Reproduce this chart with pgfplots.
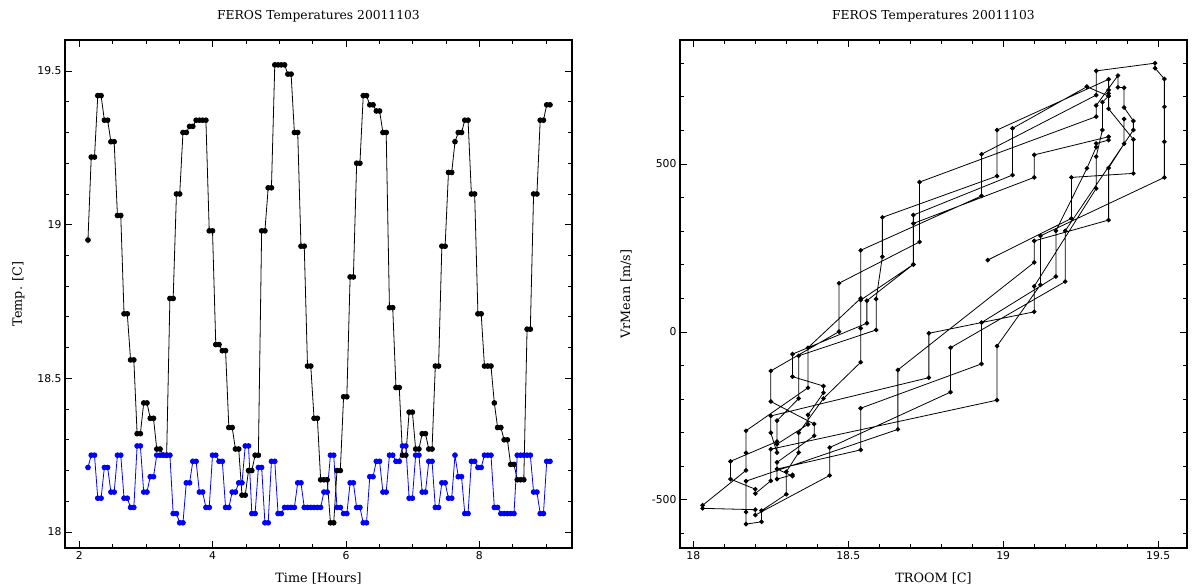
\documentclass[border=0pt]{standalone}
\usepackage{fontspec}
\setmainfont{DejaVu Serif}
\newfontfamily\ticksans{DejaVu Sans}
\usepackage{pgfplots}
\pgfplotsset{compat=1.18}
\usepackage{pgfplotstable}

% t = time [h], T = TROOM [C], B = second sensor [C], V = VrMean [m/s]
\pgfplotstableread{
t T B V
2.130 18.95 18.21 214
2.179 19.22 18.25 338
2.228 19.22 18.25 460
2.277 19.42 18.11 472
2.327 19.42 18.11 573
2.376 19.34 18.21 664
2.425 19.34 18.21 702
2.474 19.27 18.13 730
2.523 19.27 18.13 730
2.572 19.03 18.25 606
2.622 19.03 18.25 467
2.671 18.71 18.11 348
2.720 18.71 18.11 201
2.769 18.56 18.08 93
2.818 18.56 18.08 26
2.867 18.32 18.28 -66
2.916 18.32 18.28 -133
2.966 18.42 18.13 -161
3.015 18.42 18.13 -181
3.064 18.37 18.18 -247
3.113 18.37 18.18 -275
3.162 18.27 18.25 -334
3.211 18.27 18.25 -359
3.260 18.25 18.25 -300
3.310 18.25 18.25 -250
3.359 18.76 18.25 -136
3.408 18.76 18.06 -4
3.457 19.10 18.06 60
3.506 19.10 18.03 136
3.555 19.30 18.03 427
3.605 19.30 18.16 522
3.654 19.32 18.16 601
3.703 19.32 18.23 684
3.752 19.34 18.23 702
3.801 19.34 18.13 710
3.850 19.34 18.13 720
3.899 19.34 18.08 752
3.949 18.98 18.08 601
3.998 18.98 18.25 464
4.047 18.61 18.25 341
4.096 18.61 18.23 224
4.145 18.59 18.23 98
4.194 18.59 18.08 6
4.243 18.34 18.08 -71
4.293 18.34 18.13 -198
4.342 18.27 18.13 -264
4.391 18.27 18.16 -326
4.440 18.12 18.16 -385
4.489 18.12 18.28 -438
4.538 18.20 18.28 -468
4.588 18.20 18.06 -481
4.637 18.25 18.06 -443
4.686 18.25 18.21 -349
4.735 18.98 18.21 -203
4.784 18.98 18.03 -42
4.833 19.12 18.03 140
4.882 19.12 18.23 286
4.932 19.52 18.23 460
4.981 19.52 18.06 566
5.030 19.52 18.06 670
5.079 19.52 18.08 753
5.128 19.49 18.08 785
5.177 19.49 18.08 800
5.226 19.30 18.08 777
5.276 19.30 18.16 705
5.325 18.93 18.16 529
5.374 18.93 18.08 405
5.423 18.54 18.08 243
5.472 18.54 18.08 100
5.521 18.37 18.08 -47
5.571 18.37 18.08 -166
5.620 18.17 18.08 -294
5.669 18.17 18.13 -360
5.718 18.17 18.13 -412
5.767 18.03 18.25 -516
5.816 18.03 18.25 -525
5.865 18.20 18.08 -529
5.915 18.20 18.08 -545
5.964 18.44 18.06 -427
6.013 18.44 18.06 -344
6.062 18.83 18.16 -179
6.111 18.83 18.16 -47
6.160 19.20 18.08 150
6.209 19.20 18.08 301
6.259 19.42 18.03 601
6.308 19.42 18.03 628
6.357 19.39 18.18 668
6.406 19.39 18.18 727
6.455 19.37 18.23 728
6.504 19.37 18.23 763
6.554 19.30 18.13 674
6.603 19.30 18.13 641
6.652 18.73 18.25 446
6.701 18.73 18.25 268
6.750 18.47 18.23 145
6.799 18.47 18.23 1
6.848 18.25 18.28 -116
6.898 18.25 18.28 -207
6.947 18.39 18.11 -274
6.996 18.39 18.11 -309
7.045 18.27 18.25 -388
7.094 18.27 18.25 -408
7.143 18.32 18.13 -429
7.192 18.32 18.13 -425
7.242 18.27 18.23 -438
7.291 18.27 18.23 -408
7.340 18.54 18.08 -351
7.389 18.54 18.08 -227
7.438 18.93 18.16 -95
7.487 18.93 18.16 28
7.537 19.17 18.11 165
7.586 19.17 18.11 301
7.635 19.27 18.25 487
7.684 19.30 18.18 550
7.733 19.30 18.18 561
7.782 19.34 18.06 571
7.831 19.34 18.06 581
7.881 19.10 18.23 527
7.930 19.10 18.23 460
7.979 18.71 18.21 323
8.028 18.71 18.21 201
8.077 18.54 18.25 95
8.126 18.54 18.25 11
8.175 18.54 18.25 -90
8.225 18.42 18.08 -198
8.274 18.34 18.08 -300
8.323 18.34 18.06 -359
8.372 18.30 18.06 -416
8.421 18.30 18.06 -483
8.470 18.22 18.06 -532
8.520 18.22 18.06 -565
8.569 18.17 18.25 -572
8.618 18.17 18.25 -536
8.667 18.17 18.25 -444
8.716 18.66 18.25 -290
8.765 18.66 18.25 -113
8.814 19.10 18.13 207
8.864 19.10 18.13 271
8.913 19.34 18.06 333
8.962 19.34 18.06 488
9.011 19.39 18.23 560
9.060 19.39 18.23 634
}\feros

\pgfplotsset{
  feros/.style={
    anchor=south west,
    scale only axis, width=507pt, height=508pt,
    axis line style={line width=1.6pt},
    tick align=inside,
    major tick length=7pt, minor tick length=4pt,
    every tick/.style={black, line width=0.9pt},
    ticklabel style={font=\ticksans\fontsize{10.8}{12}\selectfont},
    /pgf/number format/assume math mode=true,
    title style={font=\fontsize{12.3}{14}\selectfont, anchor=base},
    label style={font=\fontsize{12.8}{14}\selectfont},
    xlabel style={anchor=base},
    ylabel style={anchor=base},
  },
}

\begin{document}
\begin{tikzpicture}
\path[use as bounding box] (0,0) rectangle (1192pt,588pt);

\begin{axis}[feros, at={(65pt,40pt)},
  xmin=1.7855, xmax=9.39, ymin=17.948, ymax=19.601,
  xtick={2,4,6,8}, minor xtick={2.5,3,3.5,4.5,5,5.5,6.5,7,7.5,8.5,9},
  ytick={18,18.5,19,19.5},
  minor ytick={18.1,18.2,18.3,18.4,18.6,18.7,18.8,18.9,19.1,19.2,19.3,19.4},
  yticklabel style={/pgf/number format/fixed},
  title={FEROS Temperatures 20011103},
  title style={at={([yshift=14pt]axis description cs:0.5,1)}},
  xlabel={Time [Hours]},
  xlabel style={at={([yshift=-35pt]axis description cs:0.5,0)}},
  ylabel={Temp. [C]},
  ylabel style={at={([xshift=-43pt]axis description cs:0,0.5)}},
]
\addplot[black, line width=0.8pt, mark=*, mark size=2.4pt] table[x=t, y=T] {\feros};
\addplot[blue, line width=0.8pt, mark=*, mark size=2.4pt] table[x=t, y=B] {\feros};
\end{axis}

\begin{axis}[feros, at={(680pt,40pt)},
  xmin=17.957, xmax=19.593, ymin=-643, ymax=869,
  xtick={18,18.5,19,19.5},
  minor xtick={18.1,18.2,18.3,18.4,18.6,18.7,18.8,18.9,19.1,19.2,19.3,19.4},
  ytick={-500,0,500}, yticklabels={-500,0,500},
  minor ytick={-600,-400,-300,-200,-100,100,200,300,400,600,700,800},
  title={FEROS Temperatures 20011103},
  title style={at={([yshift=14pt]axis description cs:0.5,1)}},
  xlabel={TROOM [C]},
  xlabel style={at={([yshift=-35pt]axis description cs:0.5,0)}},
  ylabel={VrMean [m/s]},
  ylabel style={at={([xshift=-50pt]axis description cs:0,0.5)}},
]
\addplot[black, line width=0.8pt, mark=*, mark size=1.9pt] table[x=T, y=V] {\feros};
\end{axis}
\end{tikzpicture}
\end{document}
